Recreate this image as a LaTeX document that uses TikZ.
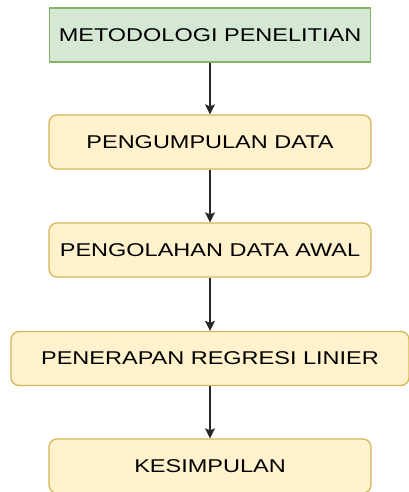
\documentclass[tikz,border=0pt]{standalone}
\usepackage{fontspec}
\newfontfamily\boxfont[FakeStretch=1.27]{Liberation Sans}
\usetikzlibrary{arrows.meta, positioning}
\definecolor{greenfill}{HTML}{D5E8D4}
\definecolor{greenline}{HTML}{82B366}
\definecolor{yellowfill}{HTML}{FFF2CC}
\definecolor{yellowline}{HTML}{D6B656}

\begin{document}
\begin{tikzpicture}[x=1pt, y=-1pt]

    % Styles
    \tikzset{
        boxstyle/.style={rectangle, draw, line width=1.3pt, minimum height=54pt, align=center,
            inner sep=0pt, text=black, font=\boxfont\fontsize{18.5}{22}\selectfont},
        headbox/.style={boxstyle, fill=greenfill, draw=greenline, minimum width=321pt},
        stepbox/.style={boxstyle, fill=yellowfill, draw=yellowline, rounded corners=8pt, minimum width=322pt},
        widebox/.style={stepbox, minimum width=398pt},
        arrow/.style={-{Stealth[length=10pt, width=10pt, inset=2pt]}, line width=1.5pt, black!85}
    }

    \useasboundingbox (0,0) rectangle (409,492);

    % Boxes
    \node[headbox] (metode) at (210, 35) {METODOLOGI PENELITIAN};
    \node[stepbox] (kumpul) at (210, 142) {PENGUMPULAN DATA};
    \node[stepbox] (olah) at (210, 250) {PENGOLAHAN DATA AWAL};
    \node[widebox] (regresi) at (210, 358.5) {PENERAPAN REGRESI LINIER};
    \node[stepbox] (simpul) at (210, 466) {KESIMPULAN};

    % Arrows
    \draw[arrow] (metode) -- (kumpul);
    \draw[arrow] (kumpul) -- (olah);
    \draw[arrow] (olah) -- (regresi);
    \draw[arrow] (regresi) -- (simpul);

\end{tikzpicture}
\end{document}
